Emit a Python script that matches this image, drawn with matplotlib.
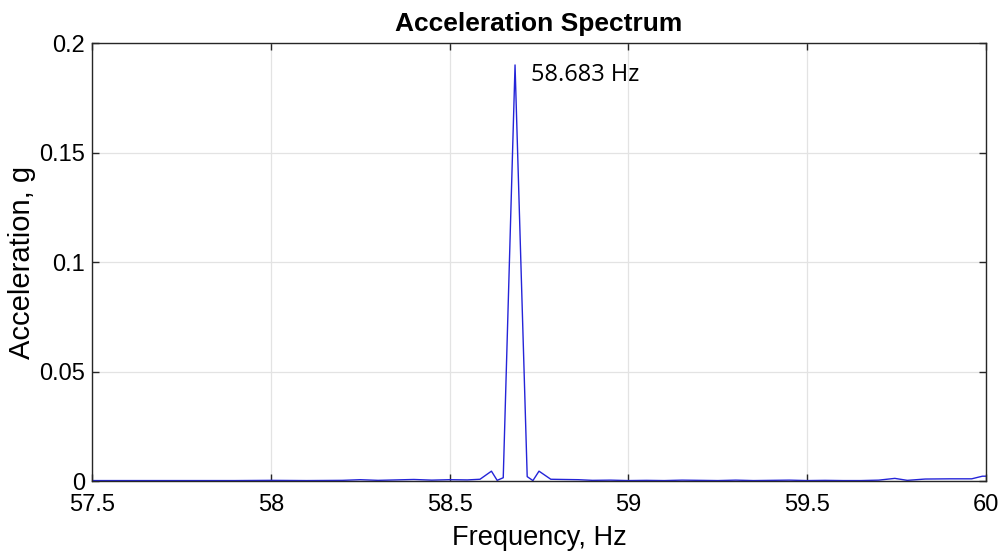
import numpy as np
import matplotlib.pyplot as plt

plt.rcParams['font.family'] = ['Liberation Sans', 'DejaVu Sans']
plt.rcParams['font.size'] = 16

# spectrum (Hz, g)
freq = [57.50, 57.60, 57.70, 57.80, 57.90, 58.00, 58.10, 58.20, 58.25, 58.30,
        58.35, 58.40, 58.45, 58.50, 58.55, 58.585, 58.617, 58.633, 58.650, 58.683,
        58.717, 58.733, 58.750, 58.783, 58.82, 58.86, 58.90, 58.95, 59.00, 59.05,
        59.10, 59.15, 59.20, 59.25, 59.30, 59.35, 59.40, 59.45, 59.50, 59.55,
        59.60, 59.65, 59.70, 59.745, 59.78, 59.83, 59.90, 59.96, 59.99, 60.00]
accel = [0.0002, 0.0002, 0.0002, 0.0002, 0.0002, 0.0003, 0.0002, 0.0003, 0.0006, 0.0003,
         0.0005, 0.0007, 0.0004, 0.0006, 0.0005, 0.0008, 0.0045, 0.0003, 0.0015, 0.190,
         0.0020, 0.0002, 0.0045, 0.0008, 0.0007, 0.0006, 0.0003, 0.0004, 0.0002, 0.0003,
         0.0002, 0.0004, 0.0003, 0.0002, 0.0004, 0.0002, 0.0003, 0.0004, 0.0002, 0.0003,
         0.0002, 0.0002, 0.0004, 0.0012, 0.0003, 0.0009, 0.0010, 0.0010, 0.0022, 0.0022]

peak_freq = 58.683
peak_label = '58.683 Hz'

xticks = [57.5, 58, 58.5, 59, 59.5, 60]
xtick_labels = ['57.5', '58', '58.5', '59', '59.5', '60']
yticks = [0, 0.05, 0.1, 0.15, 0.2]
ytick_labels = ['0', '0.05', '0.1', '0.15', '0.2']

fig = plt.figure(figsize=(10, 5.52), dpi=100)
ax = fig.add_axes([0.092, 0.1286, 0.894, 0.7934])

ax.plot(freq, accel, color='#2424d8', linewidth=1.0)

ax.set_xlim(57.5, 60)
ax.set_ylim(0, 0.2)
ax.set_xticks(xticks)
ax.set_xticklabels(xtick_labels)
ax.set_yticks(yticks)
ax.set_yticklabels(ytick_labels)
ax.tick_params(direction='in', top=True, right=True, length=5, width=1,
               color='#262626', labelsize=17)
ax.tick_params(axis='x', pad=9)
ax.tick_params(axis='y', pad=5)
ax.grid(color='#e3e3e3', linestyle='-', linewidth=0.9)
ax.set_axisbelow(True)
for s in ax.spines.values():
    s.set_color('#262626')
    s.set_linewidth(1.0)

ax.set_title('Acceleration Spectrum', fontsize=19, fontweight='bold', pad=9)
ax.set_xlabel('Frequency, Hz', fontsize=19.5, labelpad=7)
ax.set_ylabel('Acceleration, g', fontsize=21, labelpad=2)

pk = accel[freq.index(peak_freq)]
ax.annotate(peak_label, xy=(peak_freq, pk), xytext=(11.5, -7), textcoords='offset points',
            fontsize=17, family=['Open Sans', 'DejaVu Sans'], va='center', ha='left')

fig.savefig('out.png', dpi=100)
